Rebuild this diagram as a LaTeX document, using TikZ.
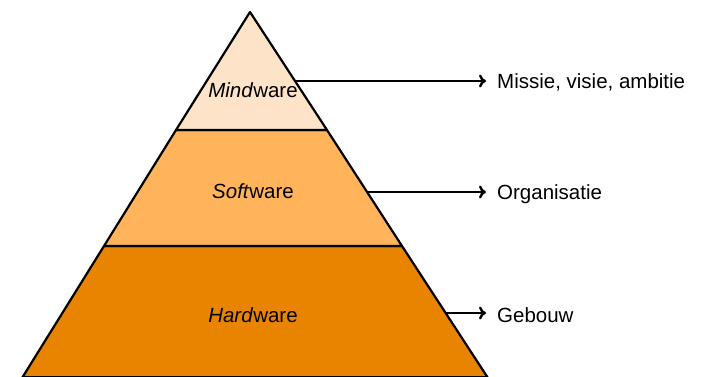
\documentclass[tikz,border=0pt]{standalone}
\usepackage{fontspec}
\setmainfont{Liberation Sans}
\usetikzlibrary{arrows.meta}
\definecolor{mindcol}{RGB}{253,228,200}
\definecolor{softcol}{RGB}{255,180,92}
\definecolor{hardcol}{RGB}{233,132,0}
\tikzset{
  layer/.style={draw=black, line width=2.2pt, line join=round},
  lvl/.style={anchor=base, inner sep=0pt, font=\fontsize{20.5}{24}\selectfont},
  lbl/.style={anchor=base west, inner sep=0pt, font=\fontsize{20.5}{24}\selectfont},
  goal/.style={line width=2.4pt, -{To[length=7pt,width=13pt]}, shorten >=11pt}
}
\begin{document}
\begin{tikzpicture}[x=1pt,y=-1pt]
  \useasboundingbox (0,0) rectangle (702,376);

  \begin{scope}
    \clip (0,0) rectangle (702,376);
    \filldraw[layer, fill=hardcol] (104,246) -- (402,246) -- (488,378) -- (22,378) -- cycle;
    \filldraw[layer, fill=softcol] (176,130) -- (327,130) -- (402,246) -- (104,246) -- cycle;
    \filldraw[layer, fill=mindcol] (250,12) -- (327,130) -- (176,130) -- cycle;
    \draw[layer] (23,377) -- (487,377);
  \end{scope}

  \node[lvl] (mind) at (253,97)  {\textit{Mind}ware};
  \node[lvl] (soft) at (253,198) {\textit{Soft}ware};
  \node[lvl] (hard) at (253,322) {\textit{Hard}ware};

  % edge points on the right side
  \coordinate (mindedge) at (295,81);
  \coordinate (softedge) at (367,192);
  \coordinate (hardedge) at (446,313);

  \node[lbl] (missie) at (497,88)  {Missie, visie, ambitie};
  \node[lbl] (organ)  at (497,199) {Organisatie};
  \node[lbl] (gebouw) at (497,322) {Gebouw};

  \draw[goal] (mindedge) -- (mindedge -| missie.west);
  \draw[goal] (softedge) -- (softedge -| organ.west);
  \draw[goal] (hardedge) -- (hardedge -| gebouw.west);
\end{tikzpicture}
\end{document}
